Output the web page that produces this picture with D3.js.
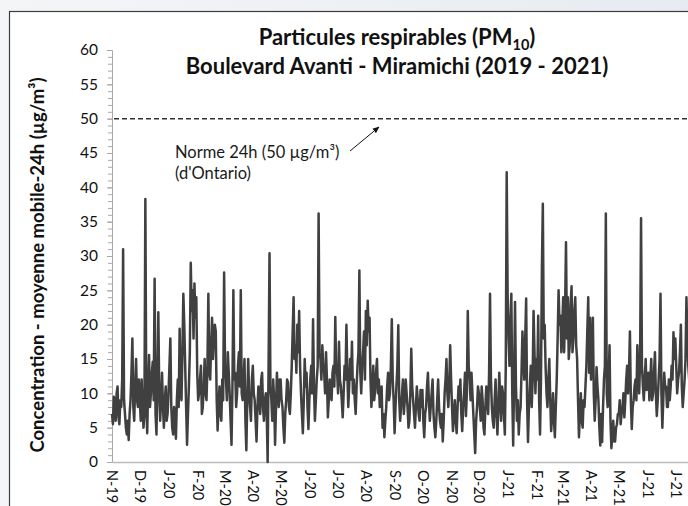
<!DOCTYPE html>
<html>
<head>
<meta charset="utf-8">
<script src="https://cdn.jsdelivr.net/npm/d3@7"></script>
<style>
  html, body { margin: 0; padding: 0; }
  body {
    width: 688px; height: 506px; overflow: hidden;
    background: linear-gradient(to right, #f4f5f7, #e7ebf1);
  }
  svg { display: block; font-family: Lato, 'Open Sans', sans-serif; }
</style>
</head>
<body>
<svg class="pm-chart"></svg>
<script>
'use strict';

// moyenne mobile 24h, une valeur par jour
var nov19 = [7, 5.5, 9.5, 8, 6, 10, 11, 6.5, 5.5, 9, 8, 12, 31, 9, 7, 5, 4, 6, 3.2, 7, 9, 13, 18, 8, 6, 11, 15, 9, 8, 12];
var dec19 = [9, 6, 12, 8, 5, 7, 38.3, 9, 4.2, 11, 15.6, 8, 10, 13, 14.6, 9, 26.7, 7, 4, 12, 21.8, 10, 6, 9, 13, 8, 5, 9, 11, 6, 7];
var jan20 = [10, 14, 18, 8, 5, 4, 8, 6, 3.4, 9, 12, 8, 19.4, 11, 9, 16, 24.5, 20, 14, 8, 2.5, 7, 11, 16, 29, 22, 25, 18, 26, 21, 24];
var feb20 = [13, 9, 10, 12, 14, 7, 8, 11, 15, 10, 9, 14, 24.5, 13, 12, 17, 21, 15, 18, 20, 19, 9, 4.6, 8, 11, 7, 6, 12, 9];
var mar20 = [27.6, 14, 12, 9, 16, 13, 10, 6, 2.5, 11, 25, 12, 13, 8, 10, 14, 16, 11, 25, 10, 9, 12, 15, 6, 1.7, 9, 15, 10, 8, 6, 12];
var apr20 = [14, 10, 9, 6, 3, 8, 11, 9, 7, 12, 13, 8, 6, 9, 10, 7, 0, 14, 30.4, 11, 9, 6, 12, 9, 2.5, 8, 13, 10, 8, 12];
var may20 = [12, 9, 8, 5, 2.8, 7, 9, 12, 11.6, 8, 7, 10, 14, 19, 24, 15, 17, 13, 20, 16, 22, 14, 10, 7, 4.2, 9, 15, 11, 13, 8, 4.8];
var jun20 = [9, 12, 14, 10, 20.8, 11, 6, 9, 12, 14, 36.2, 16, 15, 12, 17, 14, 13, 10, 16, 12, 6.5, 9, 12, 10, 9, 13, 14, 11, 21.1, 13];
var jul20 = [13, 10, 17.5, 12, 11, 9, 6.5, 10, 14, 12, 20, 13, 8, 11, 15, 12, 17.5, 10, 12, 9, 7, 11, 14, 16, 27.9, 13, 10, 14, 16, 19, 12];
var aug20 = [22, 17, 23.5, 19, 21, 12, 8, 11, 14, 9, 10.5, 13, 15, 10, 12, 8, 9, 11, 5, 7, 3.6, 6, 8, 11, 13, 9, 10, 14, 20.8, 12, 9];
var sep20 = [4.2, 8, 11, 14, 19.9, 9, 6, 8, 10, 12, 7, 9, 12, 10, 8, 5, 6, 10, 16.5, 11, 9, 7, 5, 8, 11, 9, 7, 6, 10.5, 8];
var oct20 = [10.5, 6, 3.6, 7, 8, 11, 13, 9, 6, 8, 10, 12, 7, 5, 3.6, 6, 9, 12, 8, 6, 5, 7, 3, 6, 10, 12, 15, 10, 8, 11, 17];
var nov20 = [12, 8, 4.5, 7, 9, 6, 4.2, 8, 11, 9, 12, 7, 4.5, 8, 10, 13, 6.7, 10, 22, 14, 12, 9, 13, 10, 7, 4, 1.3, 6, 8, 11];
var dec20 = [10, 8, 6, 11, 9, 5, 4, 8, 11, 9, 7, 13, 24.5, 12, 8, 6, 5, 9, 12, 7, 4, 8, 13, 9, 6, 11, 10, 7, 4, 14, 42.2];
var jan21 = [24.5, 18, 14, 20, 24.5, 10, 2.4, 12, 23.3, 11, 6, 9, 4, 7, 8, 13, 19, 15, 12, 18, 23.8, 9, 2.9, 8, 11, 14, 8, 12, 22, 16, 10];
var feb21 = [15, 12, 21.3, 9, 4, 12, 28.2, 37.6, 18, 20, 13.8, 10, 8, 12, 15, 9, 4.5, 7, 10, 6, 3.6, 8, 12, 18, 25, 20, 21.3, 16];
var mar21 = [20, 24, 16, 22, 32, 18, 24, 15, 17, 23, 25.6, 16, 18, 22, 24, 17, 15, 9, 3.6, 7, 10, 6, 5, 9, 8, 11, 14, 19, 24, 13, 21];
var apr21 = [12, 15, 21, 10, 6, 9, 13.8, 11, 9, 5, 2.4, 7, 2.9, 8, 12, 14, 36.2, 10, 8, 12, 17, 6, 2, 4, 6, 3, 3, 5, 5.5, 7];
var may21 = [7, 9, 5.5, 7, 8, 10, 6.5, 9, 12, 14, 10, 13, 19, 9, 4.8, 8, 9, 11, 12, 9, 17, 13, 10, 15, 35.5, 14, 11, 9, 12, 15, 10.5];
var jun21 = [11, 13, 9, 12, 15, 9, 10, 13, 16, 10, 6.7, 9, 12, 15, 24.5, 10, 5, 9, 13, 11, 11, 8, 8, 12, 9, 11, 14, 12, 18.9, 15];
var jul21 = [18, 14, 10, 12, 13, 16, 20, 11, 8, 10, 12, 15, 24, 18, 14, 12, 11, 13];

var months = [nov19, dec19, jan20, feb20, mar20, apr20, may20, jun20, jul20, aug20,
    sep20, oct20, nov20, dec20, jan21, feb21, mar21, apr21, may21, jun21, jul21];
var xTickLabels = ['N-19', 'D-19', 'J-20', 'F-20', 'M-20', 'A-20', 'M-20', 'J-20', 'J-20', 'A-20',
    'S-20', 'O-20', 'N-20', 'D-20', 'J-21', 'F-21', 'M-21', 'A-21', 'M-21', 'J-21', 'J-21'];
var yTicks = [0, 5, 10, 15, 20, 25, 30, 35, 40, 45, 50, 55, 60];
var norme = 50;

var parseData = function() {
    var arr = [];
    months.forEach(function(vals, i) {
        var start = new Date(2019, 10 + i, 1);
        vals.forEach(function(v, k) {
            arr.push({ date: d3.timeDay.offset(start, k), value: v });
        });
    });
    return arr;
};

var drawChart = function(data) {
    var svgWidth = 688,
        svgHeight = 506,
        left = 112,
        bottom = 462;

    var svg = d3.select('svg.pm-chart')
        .attr('width', svgWidth)
        .attr('height', svgHeight);

    var tickDates = xTickLabels.map(function(d, i) { return new Date(2019, 10 + i, 1); });

    var xScale = d3.scaleTime()
        .domain([new Date(2019, 10, 1), new Date(2021, 6, 19)])
        .range([left, 692]);
    var yScale = d3.scaleLinear().domain([0, 60]).range([bottom, 50]);

    // cadre blanc du graphique
    svg.append('rect')
        .attr('x', 9.5).attr('y', 11.5)
        .attr('width', 700).attr('height', 520)
        .attr('fill', '#fff')
        .attr('stroke', '#3c3c3c')
        .attr('stroke-width', 1.2);

    var title = svg.append('text')
        .attr('x', 397).attr('y', 45)
        .attr('text-anchor', 'middle')
        .style('font-size', '22px').style('font-weight', 700).attr('fill', '#111');
    title.append('tspan').text('Particules respirables (PM');
    title.append('tspan').attr('dy', 5).style('font-size', '14.5px').text('10');
    title.append('tspan').attr('dy', -5).text(')');
    svg.append('text')
        .attr('x', 397).attr('y', 74)
        .attr('text-anchor', 'middle')
        .style('font-size', '22px').style('font-weight', 700).attr('fill', '#111')
        .text('Boulevard Avanti - Miramichi (2019 - 2021)');

    svg.append('text')
        .attr('transform', 'translate(44, 265) rotate(-90)')
        .attr('text-anchor', 'middle')
        .style('font-size', '18.5px').style('font-weight', 700).attr('fill', '#111')
        .text('Concentration - moyenne mobile-24h (µg/m³)');

    // petites graduations
    var minor = svg.append('g').attr('transform', 'translate(' + left + ',0)')
        .call(d3.axisLeft(yScale).tickValues(d3.range(0, 61)).tickSize(4).tickFormat(''));
    minor.select('.domain').remove();
    minor.selectAll('line').attr('stroke', '#a8a8a8');

    var yAxis = svg.append('g').attr('transform', 'translate(' + left + ',0)')
        .call(d3.axisLeft(yScale).tickValues(yTicks).tickSize(5).tickPadding(9));
    yAxis.select('.domain').attr('stroke', '#a8a8a8');
    yAxis.selectAll('line').attr('stroke', '#a8a8a8');
    yAxis.selectAll('text').style('font-size', '15.5px').attr('fill', '#111').style('font-family', 'Lato, sans-serif');

    var xAxis = svg.append('g').attr('transform', 'translate(0,' + bottom + ')')
        .call(d3.axisBottom(xScale).tickValues(tickDates).tickSize(0)
            .tickFormat(function(d, i) { return xTickLabels[i]; }));
    xAxis.select('.domain').attr('stroke', '#bdbdbd').attr('stroke-width', 1.5);
    xAxis.selectAll('text')
        .attr('transform', 'rotate(90)')
        .attr('x', 8).attr('y', 0).attr('dy', '0.35em')
        .style('text-anchor', 'start')
        .style('font-size', '14.5px').style('font-family', 'Lato, sans-serif')
        .attr('fill', '#111');

    var line = d3.line()
        .x(function(d) { return xScale(d.date); })
        .y(function(d) { return yScale(d.value); });

    svg.append('path').attr('d', line(data))
        .attr('fill', 'none')
        .attr('stroke', '#404040')
        .attr('stroke-width', 2.5)
        .attr('stroke-linejoin', 'round');

    svg.append('line')
        .attr('x1', left + 2).attr('x2', svgWidth)
        .attr('y1', yScale(norme)).attr('y2', yScale(norme))
        .attr('stroke', '#333')
        .attr('stroke-width', 1.5)
        .attr('stroke-dasharray', '5,3');

    svg.append('defs').append('marker')
        .attr('id', 'arrow')
        .attr('viewBox', '0 0 10 10')
        .attr('refX', 9).attr('refY', 5)
        .attr('markerWidth', 7).attr('markerHeight', 7)
        .attr('orient', 'auto')
        .append('path').attr('d', 'M0,1 L10,5 L0,9 Z').attr('fill', '#111');

    svg.append('line')
        .attr('x1', 350).attr('y1', 151)
        .attr('x2', 379).attr('y2', 127)
        .attr('stroke', '#111').attr('stroke-width', 1)
        .attr('marker-end', 'url(#arrow)');

    var note = svg.append('text')
        .attr('x', 175).attr('y', 158)
        .style('font-size', '16.5px').attr('fill', '#1a1a1a');
    note.append('tspan').text('Norme 24h (50 µg/m³)');
    note.append('tspan').attr('x', 175).attr('dy', 21).text("(d'Ontario)");
};

drawChart(parseData());
</script>
</body>
</html>
